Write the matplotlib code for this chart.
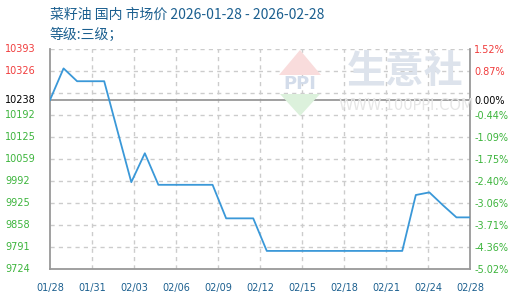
import matplotlib
matplotlib.use('Agg')
import matplotlib.pyplot as plt
from matplotlib.patches import Polygon
from matplotlib.transforms import blended_transform_factory

# ---- data ----
prices = [10238, 10334, 10295, 10295, 10295, 10141, 9988, 10076,
          9980, 9980, 9980, 9980, 9980, 9878, 9878, 9878,
          9779, 9779, 9779, 9779, 9779, 9779, 9779, 9779, 9779, 9779, 9779,
          9949, 9957, 9918, 9881, 9881]
xtick_labels = ['01/28', '01/31', '02/03', '02/06', '02/09', '02/12',
                '02/15', '02/18', '02/21', '02/24', '02/28']
base_price = 10238
ytick_values = [10393, 10326, 10238, 10192, 10125, 10059, 9992, 9925, 9858, 9791, 9724]
ytick_labels = ['10393', '10326', '10238', '10192', '10125', '10059',
                '9992', '9925', '9858', '9791', '9724']
pct_labels = ['1.52%', '0.87%', '0.00%', '-0.44%', '-1.09%', '-1.75%',
              '-2.40%', '-3.06%', '-3.71%', '-4.36%', '-5.02%']
title_text = '菜籽油 国内 市场价 2026-01-28 - 2026-02-28'
subtitle_text = '等级:三级；'

RED = '#f03c3c'
GREEN = '#3cb43c'
BLACK = '#000000'
BLUE_TXT = '#1b5f8f'
LINE = '#3a98d8'
GRID = '#cccccc'
SPINE = '#999999'

W, H = 520, 300
fig = plt.figure(figsize=(5.2, 3.0), dpi=100)
L, R, T, B = 50, 470, 49, 269
ax = fig.add_axes([L / W, 1 - B / H, (R - L) / W, (B - T) / H])

n = len(prices)
xs = list(range(n))
ymin, ymax = min(ytick_values), max(ytick_values)
ax.set_xlim(0, n - 1)
ax.set_ylim(ymin, ymax)

# grid
step = (ymax - ymin) / 10
for k in range(1, 11):
    ax.axhline(ymin + k * step, color=GRID, lw=1, ls=(0, (3, 3)), zorder=1)
nlab = len(xtick_labels)
xpos = [i * (n - 1) / (nlab - 1) for i in range(nlab)]
for xp in xpos[1:-1]:
    ax.axvline(xp, color=GRID, lw=1, ls=(0, (3, 3)), zorder=1)
ax.axhline(base_price, color=SPINE, lw=1.3, zorder=2)

# watermark
def fp(x, y):
    return (x / W, 1 - y / H)
red_poly = Polygon([fp(300, 50), fp(321, 75), fp(279, 75)], closed=True,
                   transform=fig.transFigure, facecolor='#f9dcdc', edgecolor='none', zorder=0.5)
green_poly = Polygon([fp(280, 94), fp(320, 94), fp(300, 116)], closed=True,
                     transform=fig.transFigure, facecolor='#dcf1dc', edgecolor='none', zorder=0.5)
fig.add_artist(red_poly)
fig.add_artist(green_poly)
fig.text(300 / W, 1 - 84 / H, 'PPI', color='#d3dcea', fontsize=13, fontweight='bold',
         ha='center', va='center', family='DejaVu Sans', zorder=0.5)
fig.text(405 / W, 1 - 71 / H, '生意社', color='#dde3ec', fontsize=28, fontweight='bold',
         ha='center', va='center', family='Noto Sans CJK SC', zorder=0.5)
fig.text(406 / W, 1 - 105 / H, 'WWW.100PPI.COM', color='#e6e6e6', fontsize=10.5,
         ha='center', va='center', family='DejaVu Sans', zorder=0.5)

ax.patch.set_alpha(0)
ax.plot(xs, prices, color=LINE, lw=1.3, zorder=3)

for s in ['left', 'bottom', 'right']:
    ax.spines[s].set_color(SPINE)
    ax.spines[s].set_linewidth(1.3)
ax.spines['top'].set_visible(False)

ax.set_xticks(xpos)
ax.set_xticklabels(xtick_labels, fontsize=7, color=BLUE_TXT, family='DejaVu Sans')
ax.tick_params(axis='x', length=0, pad=10)

# left labels: left-aligned at x=5px
ax.set_yticks([])
ltr = blended_transform_factory(fig.transFigure, ax.transData)
for v, lab in zip(ytick_values, ytick_labels):
    c = RED if v > base_price else (BLACK if v == base_price else GREEN)
    ax.text(5 / W, v, lab, transform=ltr, fontsize=7, color=c, ha='left', va='center',
            family='DejaVu Sans')

ax2 = ax.twinx()
ax2.set_ylim(ymin, ymax)
ax2.set_yticks(ytick_values)
ax2.set_yticklabels(pct_labels, fontsize=7, family='DejaVu Sans')
ax2.tick_params(axis='y', length=0, pad=3)
for spn in ax2.spines.values():
    spn.set_visible(False)
for lab, v in zip(ax2.get_yticklabels(), ytick_values):
    lab.set_color(RED if v > base_price else (BLACK if v == base_price else GREEN))

fig.text(50 / W, 1 - 15 / H, title_text, color=BLUE_TXT, fontsize=10,
         ha='left', va='center', family=['Noto Sans CJK SC', 'DejaVu Sans'])
fig.text(50 / W, 1 - 35 / H, subtitle_text, color=BLUE_TXT, fontsize=10,
         ha='left', va='center', family=['Noto Sans CJK SC', 'DejaVu Sans'])

fig.savefig('out.png', dpi=100)
